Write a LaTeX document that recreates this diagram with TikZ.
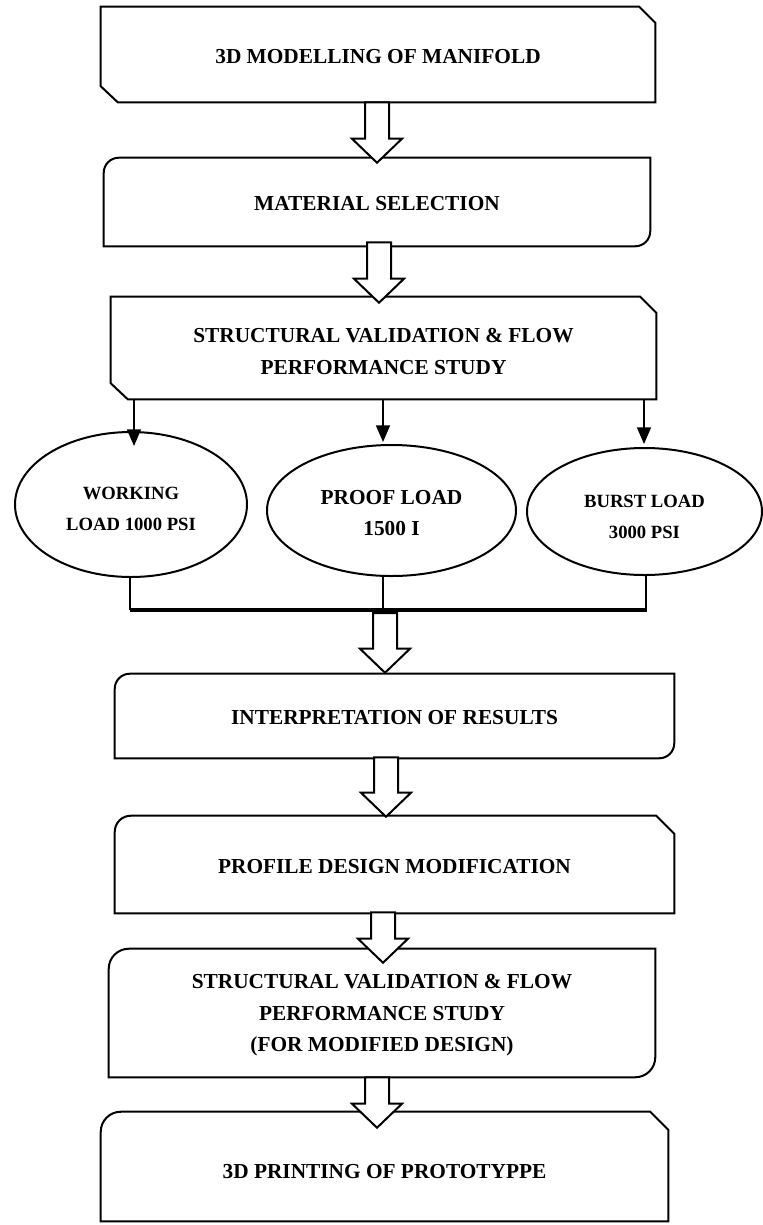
\documentclass[tikz,border=0pt]{standalone}
\usepackage{fontspec}
\setmainfont{Liberation Serif}
\usetikzlibrary{calc,fit,shapes.geometric,arrows.meta}

\tikzset{
  boxline/.style={line width=1.5pt, line join=miter},
  boxarea/.style={inner sep=0pt},
  boxtext/.style={inner sep=0pt, align=center, font=\fontsize{16}{23.6}\selectfont\bfseries},
  loadnode/.style={ellipse, draw, line width=1.5pt, inner sep=0pt},
  loadtext/.style={inner sep=0pt, align=center, font=\fontsize{14}{23.3}\selectfont\bfseries},
  feed/.style={line width=1.1pt, -{Triangle[length=12.5pt,width=10.5pt]}},
  drop/.style={line width=1.1pt},
  bar/.style={line width=3.5pt},
  hollow/.style={line width=1.5pt, fill=white, line join=miter},
}

% box with cut top right and bottom left corners
\newcommand{\snipbox}[1]{%
  \draw[boxline] (#1.north west) -- ($(#1.north east)+(-16,0)$) -- ($(#1.north east)+(0,16)$) -- (#1.south east) -- ($(#1.south west)+(17,0)$) -- ($(#1.south west)+(0,-16)$) -- cycle;}
% box with rounded top left and bottom right corners
\newcommand{\roundbox}[2]{%
  \draw[boxline] ($(#1.north west)+(0,#2)$) arc[start angle=180, end angle=270, radius=#2] -- (#1.north east) -- ($(#1.south east)+(0,-#2)$) arc[start angle=0, end angle=90, radius=#2] -- (#1.south west) -- cycle;}
% box with rounded top left and cut top right corners
\newcommand{\tabbox}[2]{%
  \draw[boxline] ($(#1.north west)+(0,#2)$) arc[start angle=180, end angle=270, radius=#2] -- ($(#1.north east)+(-18,0)$) -- ($(#1.north east)+(0,18)$) -- (#1.south east) -- (#1.south west) -- cycle;}
% hollow block arrow from #1 down to tip #2
\newcommand{\blockarrow}[2]{%
  \draw[hollow] ($(#1)+(-12,0)$) -- ($(#2)+(-12,-24)$) -- ($(#2)+(-25,-24)$) -- (#2) -- ($(#2)+(25,-24)$) -- ($(#2)+(12,-24)$) -- ($(#1)+(12,0)$) -- cycle;}

\begin{document}
\begin{tikzpicture}[x=0.75pt,y=0.75pt,yscale=-1,xscale=1]
    \useasboundingbox (0,0) rectangle (763,1225);

    % Areas of the steps
    \node[boxarea, fit={(101,7) (655,102)}] (model) {};
    \node[boxarea, fit={(104,158) (650,246)}] (matsel) {};
    \node[boxarea, fit={(111,297) (656,399)}] (struct) {};
    \node[boxarea, fit={(115,674) (674,758)}] (interp) {};
    \node[boxarea, fit={(115,816) (674,913)}] (profile) {};
    \node[boxarea, fit={(109,949) (655,1077)}] (restudy) {};
    \node[boxarea, fit={(101,1112) (668,1221)}] (printing) {};

    % Shapes of the steps
    \snipbox{model}
    \roundbox{matsel}{15}
    \snipbox{struct}
    \roundbox{interp}{15}
    \tabbox{profile}{16}
    \roundbox{restudy}{20}
    \tabbox{printing}{20}

    % Text Nodes of the steps
    \node[boxtext] (modeltxt) at ($(model.center)+(0,2.5)$) {3D MODELLING OF MANIFOLD};
    \node[boxtext] (matseltxt) at ($(matsel.center)+(0,2)$) {MATERIAL SELECTION};
    \node[boxtext] (structtxt) at ($(struct.center)+(0,3.5)$) {STRUCTURAL VALIDATION \& FLOW\\PERFORMANCE STUDY};
    \node[boxtext] (interptxt) at ($(interp.center)+(0,2)$) {INTERPRETATION OF RESULTS};
    \node[boxtext] (profiletxt) at ($(profile.center)+(0,2.5)$) {PROFILE DESIGN MODIFICATION};
    \node[boxtext] (restudytxt) at ($(restudy.center)+(0,2.5)$) {STRUCTURAL VALIDATION \& FLOW\\PERFORMANCE STUDY\\(FOR MODIFIED DESIGN)};
    \node[boxtext] (printingtxt) at ($(printing.center)+(0,5)$) {3D PRINTING OF PROTOTYPPE};

    % Ellipses of the load cases
    \node[loadnode, minimum width=174pt, minimum height=108.75pt] (working) at (131,504.5) {};
    \node[loadnode, minimum width=186.75pt, minimum height=98.25pt] (proof) at (391.5,510.5) {};
    \node[loadnode, minimum width=176.25pt, minimum height=95.25pt] (burst) at (644.5,511.5) {};
    \node[loadtext] (workingtxt) at ($(working.center)+(0,4)$) {WORKING\\LOAD 1000 PSI};
    \node[loadtext, font=\fontsize{16}{23.3}\selectfont\bfseries] (prooftxt) at ($(proof.center)+(0,3)$) {PROOF LOAD\\1500 I};
    \node[loadtext] (bursttxt) at ($(burst.center)+(0,5)$) {BURST LOAD\\3000 PSI};

    % Straight Lines into the load cases
    \draw[feed] (struct.south -| 134,0) -- ($(working.north -| 134,0)+(0,15)$);
    \draw[feed] (struct.south -| 383,0) -- ($(proof.north -| 383,0)+(0,-2)$);
    \draw[feed] (struct.south -| 644,0) -- ($(burst.north -| 644,0)+(0,-3)$);

    % Straight Lines down to the bar
    \coordinate (barL) at (130,610);
    \coordinate (barR) at (647,610);
    \draw[drop] (working.south -| barL) -- (barL);
    \draw[drop] (proof.south -| 383,0) -- (barL -| 383,0);
    \draw[drop] (burst.south -| 646,0) -- (barL -| 646,0);
    \draw[bar] (barL) -- (barR);

    % Block Arrows
    \coordinate (a1s) at (model.south -| 377,0);
    \coordinate (a1t) at ($(matsel.north -| 377,0)+(0,5)$);
    \coordinate (a2s) at ($(matsel.south -| 379,0)+(0,-4)$);
    \coordinate (a2t) at ($(struct.north -| 379,0)+(0,6)$);
    \coordinate (a3s) at ($(barL -| 385,0)+(0,3)$);
    \coordinate (a3t) at ($(interp.north -| 385,0)+(0,-1)$);
    \coordinate (a4s) at ($(interp.south -| 386,0)+(0,-1)$);
    \coordinate (a4t) at ($(profile.north -| 386,0)+(0,1)$);
    \coordinate (a5s) at ($(profile.south -| 383,0)+(0,-1)$);
    \coordinate (a5t) at ($(restudy.north -| 383,0)+(0,14)$);
    \coordinate (a6s) at (restudy.south -| 377,0);
    \coordinate (a6t) at ($(printing.north -| 377,0)+(0,16)$);
    \blockarrow{a1s}{a1t}
    \blockarrow{a2s}{a2t}
    \blockarrow{a3s}{a3t}
    \blockarrow{a4s}{a4t}
    \blockarrow{a5s}{a5t}
    \blockarrow{a6s}{a6t}
\end{tikzpicture}
\end{document}
